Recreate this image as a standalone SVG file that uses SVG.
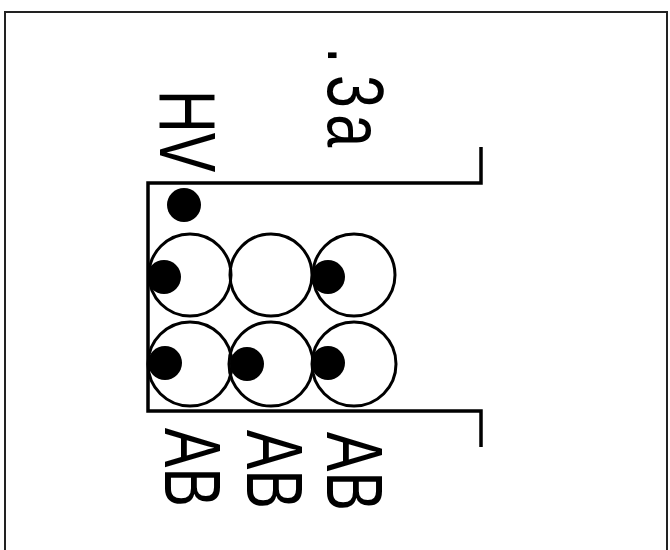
<svg xmlns="http://www.w3.org/2000/svg" width="670" height="550" viewBox="0 0 670 550">
<style>
.frame{fill:none;stroke:#222;stroke-width:2}
.ln{fill:none;stroke:#000;stroke-width:3.5}
.ring{fill:none;stroke:#000;stroke-width:3}
.dot{fill:#000}
.lbl{font-family:"Liberation Sans",Arial,sans-serif;font-size:80px;fill:#000}
</style>
<rect width="670" height="550" fill="#fff"/>
<path class="frame" d="M5,560 V12 H667 V560"/>
<g id="container">
<path class="ln" d="M481,147 V183 H148 V411 H481 V447"/>
</g>
<g id="circles">
<circle class="ring" cx="190" cy="275" r="41"/>
<circle class="ring" cx="271" cy="275" r="41"/>
<circle class="ring" cx="354" cy="275" r="41"/>
<circle class="ring" cx="190" cy="364" r="42"/>
<circle class="ring" cx="271" cy="364" r="42"/>
<circle class="ring" cx="354" cy="364" r="42"/>
</g>
<g id="dots">
<circle class="dot" cx="184" cy="205" r="17"/>
<circle class="dot" cx="164" cy="277" r="17"/>
<circle class="dot" cx="328" cy="277" r="17"/>
<circle class="dot" cx="165" cy="363" r="17"/>
<circle class="dot" cx="247" cy="364" r="17"/>
<circle class="dot" cx="328" cy="363" r="17"/>
</g>
<g id="label-hv"><text class="lbl" transform="translate(160,90) rotate(90) scale(0.74,1)">HV</text></g>
<g id="label-3a"><text class="lbl" transform="translate(328,47) rotate(90) scale(0.74,1)"><tspan x="0">.</tspan><tspan x="38">3</tspan><tspan x="91">a</tspan></text></g>
<g id="label-ab1"><text class="lbl" transform="translate(165,428) rotate(90) scale(0.74,1)">AB</text></g>
<g id="label-ab2"><text class="lbl" transform="translate(247,430) rotate(90) scale(0.74,1)">AB</text></g>
<g id="label-ab3"><text class="lbl" transform="translate(327,432) rotate(90) scale(0.74,1)">AB</text></g>
</svg>
